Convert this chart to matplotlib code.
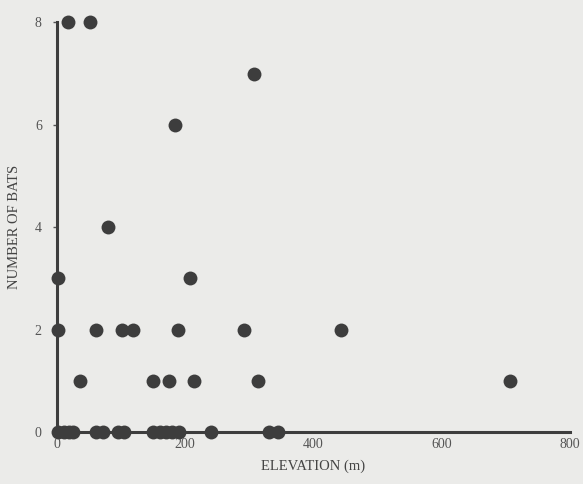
import matplotlib
matplotlib.use('Agg')
from matplotlib import pyplot as plt

# elevation (m) and number of bats
elevation = [17, 51,
             307,
             184,
             79,
             1, 208,
             1, 60, 102, 118, 189, 291, 443,
             36, 150, 174, 214, 313, 707,
             2, 10, 18, 25, 60, 72, 95, 105, 150, 160, 170, 180, 190, 240, 330, 345]
bats = [8, 8,
        7,
        6,
        4,
        3, 3,
        2, 2, 2, 2, 2, 2, 2,
        1, 1, 1, 1, 1, 1,
        0, 0, 0, 0, 0, 0, 0, 0, 0, 0, 0, 0, 0, 0, 0, 0]

x_ticks = [0, 200, 400, 600, 800]
y_ticks = [0, 2, 4, 6, 8]

plt.rcParams['font.family'] = 'Liberation Serif'
bg = '#ebebe9'
ink = '#3d3d3d'

fig = plt.figure(figsize=(5.83, 4.84), dpi=100, facecolor=bg)
ax = fig.add_axes([0.098, 0.107, 0.879, 0.847], facecolor=bg)

ax.scatter(elevation, bats, s=100, color=ink, clip_on=False, zorder=3, linewidths=0)

ax.set_xlim(0, 800)
ax.set_ylim(0, 8)
ax.set_xticks(x_ticks)
ax.set_yticks(y_ticks)
for s in ['top', 'right']:
    ax.spines[s].set_visible(False)
for s in ['left', 'bottom']:
    ax.spines[s].set_color(ink)
    ax.spines[s].set_linewidth(2.2)
ax.tick_params(axis='x', length=0, pad=4, labelsize=10, colors='#555555')
ax.tick_params(axis='y', length=3, width=1, pad=8, labelsize=10, colors='#555555')

ax.set_xlabel('ELEVATION (m)', fontsize=10.5, color='#444444', labelpad=6)
ax.set_ylabel('NUMBER OF BATS', fontsize=10.5, color='#444444', labelpad=10)

fig.savefig('out.png', dpi=100, facecolor=bg)
